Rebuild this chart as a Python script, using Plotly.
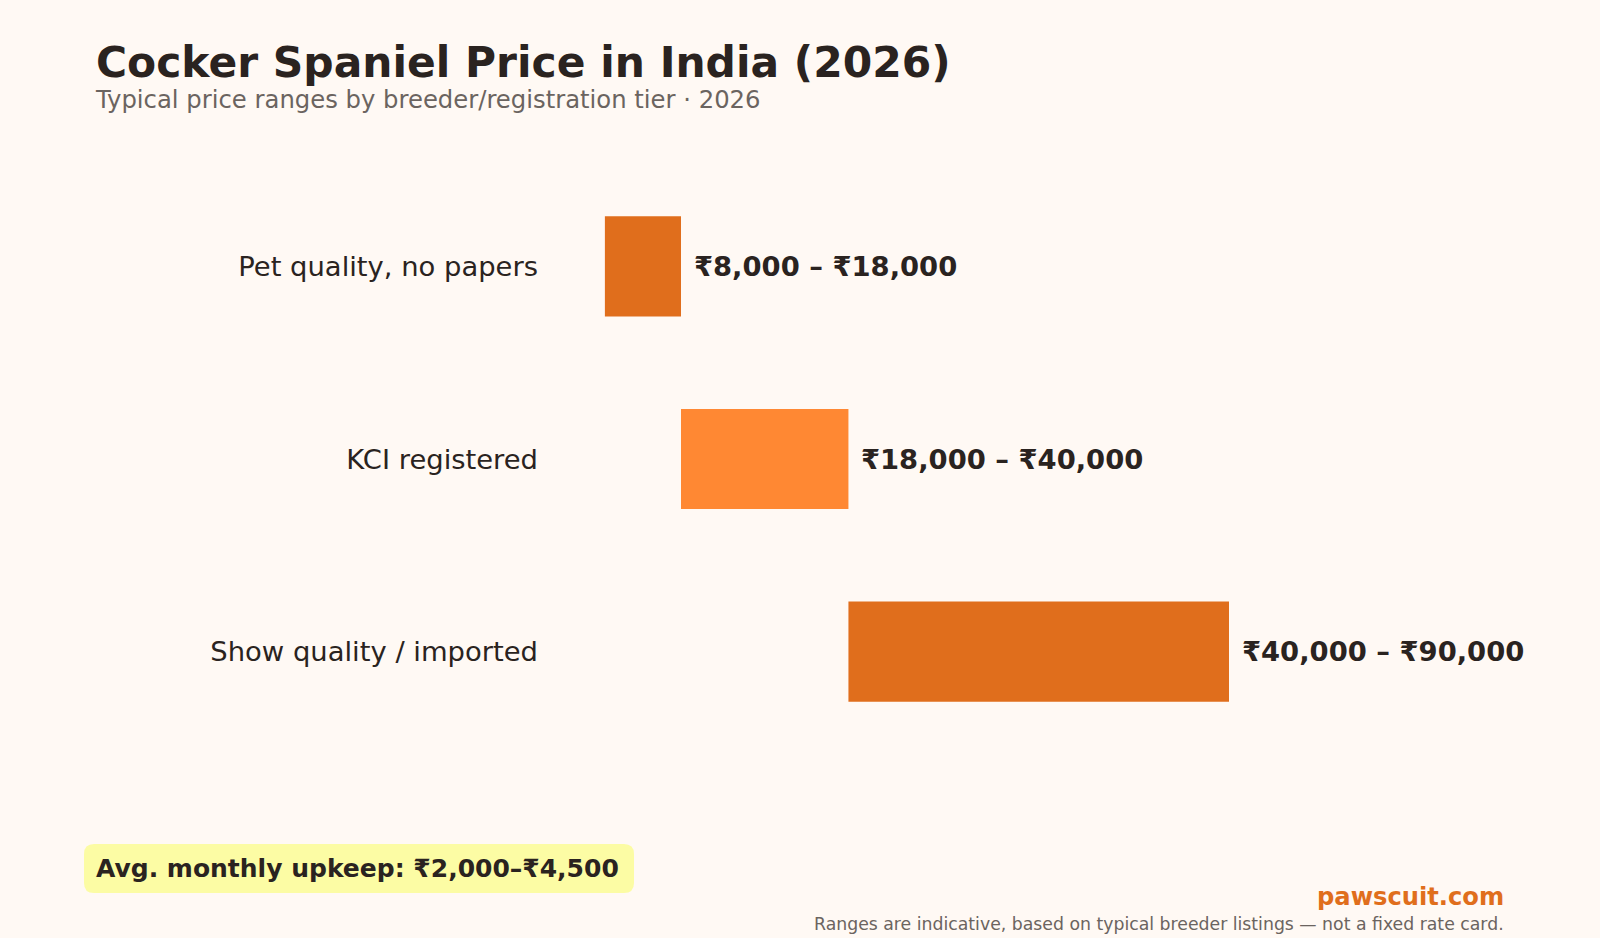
import plotly.graph_objects as go

# price tiers, INR
tiers = ["Pet quality, no papers", "KCI registered", "Show quality / imported"]
low = [8000, 18000, 40000]
high = [18000, 40000, 90000]
bar_colors = ["#E06E1C", "#FF8833", "#E06E1C"]

title = "Cocker Spaniel Price in India (2026)"
subtitle = "Typical price ranges by breeder/registration tier · 2026"
upkeep = "Avg. monthly upkeep: ₹2,000–₹4,500"
brand = "pawscuit.com"
note = "Ranges are indicative, based on typical breeder listings — not a fixed rate card."

BG = "#FFF9F4"
INK = "#2A2320"
GREY = "#6B6460"
FONT = "DejaVu Sans"

W, H = 1600, 938
ML, MR, MT, MB = 544, 97, 170, 190
PW, PH = W - ML - MR, H - MT - MB


def px(x):
    return (x - ML) / PW


def py(y):
    return (H - MB - y) / PH


def fmt(v):
    return "₹{:,}".format(v)


fig = go.Figure()
fig.add_trace(go.Bar(
    y=tiers,
    x=[h - l for l, h in zip(low, high)],
    base=low,
    orientation="h",
    marker=dict(color=bar_colors, line=dict(width=0)),
    width=0.52,
    hoverinfo="skip",
))

for t, l, h in zip(tiers, low, high):
    fig.add_annotation(
        x=h, y=t, xref="x", yref="y",
        text="<b>%s – %s</b>" % (fmt(l), fmt(h)),
        showarrow=False, xanchor="left", xshift=11,
        font=dict(size=27.4, color=INK, family=FONT),
    )

# rounded highlight box behind the upkeep note
x0, x1, y0, y1 = px(84), px(634), py(893), py(844)
rx, ry = 10 / PW, 10 / PH
path = (f"M {x0+rx},{y0} L {x1-rx},{y0} Q {x1},{y0} {x1},{y0+ry} "
        f"L {x1},{y1-ry} Q {x1},{y1} {x1-rx},{y1} "
        f"L {x0+rx},{y1} Q {x0},{y1} {x0},{y1-ry} "
        f"L {x0},{y0+ry} Q {x0},{y0} {x0+rx},{y0} Z")
fig.add_shape(type="path", path=path, xref="paper", yref="paper",
              fillcolor="#FCFCA4", line=dict(width=0), layer="below")
fig.add_annotation(x=px(94), y=py(868), xref="paper", yref="paper",
                   text="<b>%s</b>" % upkeep, showarrow=False,
                   xanchor="left", yanchor="middle",
                   font=dict(size=25, color=INK, family=FONT))

fig.add_annotation(x=px(93), y=py(100), xref="paper", yref="paper",
                   text=subtitle, showarrow=False,
                   xanchor="left", yanchor="middle",
                   font=dict(size=24.3, color=GREY, family=FONT))
fig.add_annotation(x=1, y=py(897), xref="paper", yref="paper",
                   text="<b>%s</b>" % brand, showarrow=False,
                   xanchor="right", yanchor="middle", xshift=3,
                   font=dict(size=24.2, color="#E06E1C", family=FONT))
fig.add_annotation(x=1, y=py(924), xref="paper", yref="paper",
                   text=note, showarrow=False,
                   xanchor="right", yanchor="middle", xshift=3,
                   font=dict(size=17.3, color=GREY, family=FONT))

fig.update_layout(
    width=W, height=H,
    margin=dict(l=ML, r=MR, t=MT, b=MB),
    paper_bgcolor=BG, plot_bgcolor=BG,
    showlegend=False,
    title=dict(text="<b>%s</b>" % title, x=96 / W, xanchor="left",
               y=1 - 62 / H, yanchor="middle", xref="container",
               font=dict(size=42.4, color=INK, family=FONT)),
    font=dict(family=FONT, color=INK),
    xaxis=dict(range=[0, 126000], visible=False, fixedrange=True),
    yaxis=dict(autorange="reversed", showgrid=False, zeroline=False,
               showline=False, ticks="", ticklabelstandoff=5,
               tickfont=dict(size=27.4, color=INK, family=FONT)),
)

fig.write_html(
    "out.html",
    config={"displayModeBar": False},
    post_script="document.body.style.margin='0';"
                "document.body.style.background='%s';" % BG,
)
